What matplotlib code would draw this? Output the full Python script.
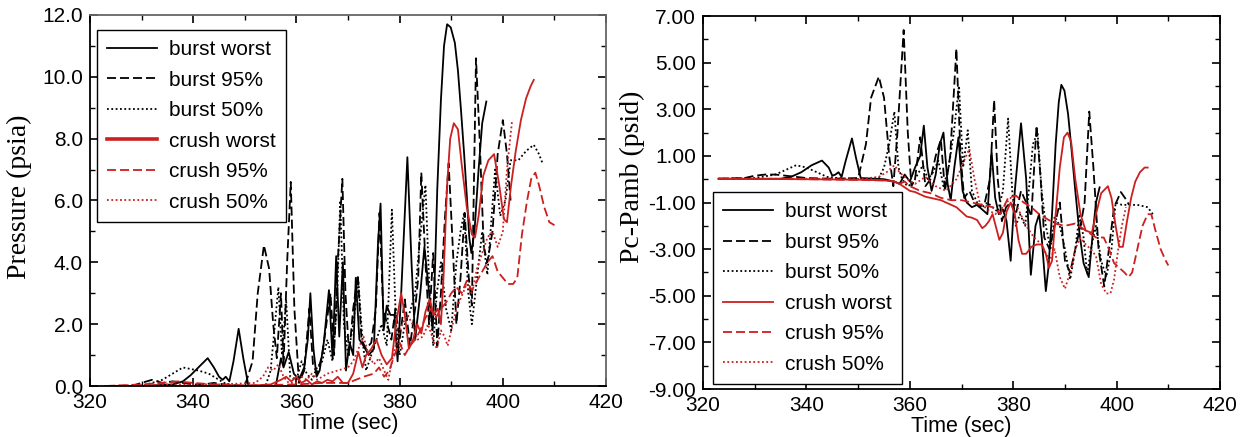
"""Burst / crush pressure histories, two panels"""
import matplotlib
matplotlib.use('Agg')
import matplotlib.pyplot as plt
from matplotlib.ticker import MultipleLocator, FormatStrFormatter

# ---- left panel: Pressure (psia) ----
L_BW_T = [323, 330, 336, 338, 339.5, 341, 342.8, 344, 345, 345.7, 346.3, 347, 347.8, 348.8, 349.7,
          350.7, 356, 357, 357.5, 358.5, 359.5, 360.5, 361.5, 362.2, 362.7, 363.3, 363.9, 364.5,
          365.3, 366.3, 367.0, 367.7, 368.3, 369.0, 369.6, 370.3, 371.0, 371.5, 372.2, 373.0, 374.0,
          375.0, 375.8, 376.3, 376.9, 377.5, 378.2, 379.0, 379.6, 380.3, 381.5, 382.3, 383.0, 384.0,
          384.8, 385.6, 386.4, 386.8, 387.3, 388.0, 388.6, 389.2, 389.9, 390.7, 391.3, 391.9,
          392.5, 393.0, 393.5, 393.9, 394.5, 395.3, 396.0, 396.8]
L_BW_P = [0, 0, 0.05, 0.15, 0.35, 0.6, 0.9, 0.6, 0.3, 0.2, 0.3, 0.15, 0.8, 1.85, 0.9,
          0, 0, 0.9, 0.6, 1.1, 0.4, 0.2, 0.6, 1.5, 3.0, 1.2, 0.3, 0.5,
          1.4, 3.1, 0.9, 4.2, 1.6, 4.0, 0.5, 1.4, 1.0, 3.5, 1.5, 1.3, 1.0,
          1.2, 4.6, 5.9, 1.8, 2.6, 2.3, 2.3, 0.8, 3.0, 7.4, 4.0, 1.5, 3.0,
          4.5, 3.2, 1.8, 3.5, 6.4, 9.25, 11.0, 11.7, 11.6, 11.1, 10.2, 8.9,
          7.5, 6.2, 4.8, 4.3, 5.0, 7.0, 8.5, 9.2]

L_B95_T = [323, 328, 330, 332, 334, 336, 338, 340, 342, 344, 346, 350, 351.5, 352.5, 353.7, 354.7,
           355.5, 356.2, 357.0, 357.5, 358.2, 358.9, 359.6, 360.5, 361.5, 362.5, 363.2, 364, 365,
           365.8, 366.6, 367.3, 368.0, 368.9, 369.5, 370.2, 371.0, 371.9, 372.6, 373.5, 374.5,
           375.4, 376.1, 376.8, 377.6, 378.4, 379.2, 380.0, 381.0, 382.0, 383.0, 383.6, 384.2,
           385.0, 385.7, 386.5, 387.3, 388.0, 388.8, 389.5, 390.3, 391.0, 391.8, 392.6, 393.4,
           394.0, 394.8, 395.5, 396.3, 397.0, 398.0, 399.0, 400.0, 400.8, 401.5]
L_B95_P = [0, 0, 0.1, 0.2, 0.1, 0.15, 0.1, 0.05, 0.05, 0.1, 0.05, 0, 0.8, 3.0, 4.55, 3.8,
           2.0, 0.9, 3.0, 0.7, 4.0, 6.6, 2.5, 0.1, 0.5, 2.5, 0.7, 0.4, 1.0,
           2.0, 3.0, 1.0, 4.0, 6.7, 3.0, 1.0, 2.5, 3.6, 1.5, 1.2, 1.4,
           2.5, 5.6, 2.5, 2.0, 1.5, 2.5, 1.5, 2.8, 1.3, 2.5, 3.5, 6.9,
           4.0, 2.0, 4.3, 1.3, 3.0, 5.5, 7.2, 4.5, 2.0, 3.5, 5.6, 3.5,
           2.6, 10.6, 8.0, 4.5, 4.0, 5.0, 7.5, 8.6, 7.5, 6.0]

L_B50_T = [323, 330, 334, 336, 338, 339.5, 341, 343, 344.5, 346, 348, 354, 355, 356.5, 357.2, 358,
           358.8, 360, 361, 362, 363, 364, 365, 366, 367, 367.8, 368.5, 369.2, 370, 371, 372,
           372.8, 373.5, 374.5, 375.5, 376.5, 377.5, 378.5, 379.3, 380, 381, 382, 383, 383.8,
           385.0, 385.8, 386.5, 387.2, 388, 389, 390, 391, 391.8, 392.5, 393.3, 394.0, 395.0,
           396.0, 397.0, 398.5, 399.5, 400.5, 401.5, 403, 404.5, 406, 407, 407.7]
L_B50_P = [0, 0, 0.2, 0.4, 0.6, 0.55, 0.5, 0.4, 0.25, 0.1, 0, 0, 0.5, 3.2, 1.0, 2.8,
           0.3, 0.2, 0.8, 0.4, 0.2, 0.6, 0.8, 1.5, 0.8, 2.5, 6.0, 2.0, 1.0, 2.0, 3.4,
           1.5, 0.5, 1.0, 1.5, 2.0, 1.3, 5.7, 2.0, 1.0, 2.0, 2.4, 3.0, 4.5,
           6.5, 3.0, 1.3, 3.0, 4.0, 2.5, 1.8, 4.0, 5.0, 5.6, 3.0, 2.0, 3.5,
           5.0, 3.6, 7.0, 5.5, 6.0, 7.3, 7.3, 7.6, 7.8, 7.5, 7.2]

L_CW_T = [323, 340, 350, 355, 357, 358, 359, 360, 361, 362, 363, 364, 365, 366, 367, 368, 369, 370,
          371, 372, 372.8, 373.5, 374.5, 375.5, 376.5, 377.5, 378.5, 379.3, 380.3, 381.0, 381.8,
          382.6, 383.4, 384.2, 385.0, 385.8, 386.6, 387.4, 388.0, 388.5, 389.2, 389.8, 390.5,
          391.3, 392.0, 393.0, 394.0, 394.6, 395.3, 396.2, 397.2, 398.3, 399.3, 400.2, 400.8,
          401.6, 402.5, 403.5, 404.5, 405.4, 406.0]
L_CW_P = [0, 0, 0, 0.05, 0.2, 0.3, 0.15, 0.3, 0.1, 0.2, 0.05, 0.15, 0.1, 0.2, 0.15, 0.3, 0.1, 0.1,
          0.4, 1.1, 0.6, 1.0, 1.2, 1.5, 1.0, 0.7, 0.9, 2.0, 3.0, 2.3, 1.2,
          1.5, 2.0, 1.7, 2.4, 2.8, 2.3, 2.5, 2.0, 3.5, 6.5, 8.0, 8.5,
          8.3, 7.2, 5.8, 4.9, 4.8, 5.5, 6.8, 7.3, 7.5, 6.5, 5.4, 5.3,
          6.5, 7.6, 8.6, 9.3, 9.7, 9.9]

L_C95_T = [323, 330, 334, 337, 340, 344, 350, 360, 365, 370, 373, 375, 376, 377, 378, 379, 380, 381,
           382, 383, 384, 385, 386, 387, 388, 389, 390, 391, 392, 393, 394, 395, 396, 397, 398,
           399, 400, 401, 402, 402.8, 403.7, 404.7, 405.5, 406.3, 407, 408, 409, 410]
L_C95_P = [0, 0.05, 0.1, 0.15, 0.1, 0.05, 0.02, 0.05, 0.1, 0.1, 0.3, 0.4, 0.6, 0.3, 0.5, 1.0, 1.4, 1.0,
           1.3, 1.5, 1.8, 2.2, 2.5, 2.2, 2.5, 2.7, 3.0, 3.2, 3.0, 3.4, 3.1, 3.4, 3.7, 4.0, 4.2,
           3.7, 3.5, 3.3, 3.3, 3.5, 4.9, 6.0, 6.7, 6.9, 6.5, 5.8, 5.3, 5.2]

L_C50_T = [323, 335, 345, 352, 353.5, 354.5, 355.5, 356.5, 357.5, 358.5, 360, 361, 362, 363, 364,
           366, 368, 370, 371, 372, 373, 374, 375, 376, 377, 377.8, 378.5, 379.5, 380.5, 381.5,
           382.5, 383.5, 384.5, 385.5, 386.5, 387.2, 388, 388.7, 389.3, 390, 391, 392, 393, 394,
           395, 396, 397, 398, 399, 400, 400.8, 401.8]
L_C50_P = [0, 0.05, 0.05, 0.1, 0.3, 0.6, 0.5, 0.7, 0.3, 0.1, 0.1, 0.3, 0.2, 0.4, 0.2,
           0.4, 0.5, 0.6, 0.8, 1.2, 1.6, 1.0, 0.7, 0.9, 0.5, 0.2, 0.8, 1.5, 2.0, 2.3,
           2.0, 1.5, 1.6, 2.0, 1.5, 1.2, 1.8, 1.6, 1.3, 1.8, 2.5, 2.9, 3.3, 3.0,
           3.8, 4.3, 4.8, 5.0, 4.5, 5.0, 7.0, 8.6]

# ---- right panel: Pc-Pamb (psid) ----
R_BW_T = [323, 335, 337, 339, 341, 343, 344.3, 345, 345.6, 346.2, 346.8, 347.6, 348.8, 349.6, 350.5,
          355, 357, 358, 359, 360, 361, 362, 362.7, 363.4, 364.2, 365, 365.8, 366.5, 367.3, 367.9,
          368.6, 369.4, 370.2, 371, 372, 373, 374, 375, 375.8, 376.5, 377.2, 378, 378.7, 379.5,
          380.3, 381.5, 382.5, 383.4, 384.3, 385, 385.5, 386.3, 386.8, 387.5, 388.2, 388.8, 389.3,
          389.9, 390.6, 391.3, 392.0, 392.8, 393.6, 394.6, 395.3, 396, 396.7]
R_BW_V = [0.02, 0.02, 0.1, 0.3, 0.6, 0.8, 0.5, 0.15, 0.2, 0.3, 0.1, 0.8, 1.75, 0.9, 0.05,
          0, -0.1, -0.2, 0.2, -0.1, 0.5, 1.0, 2.3, 0.5, -0.5, 0.2, 1.5, 2.0, -0.2, -0.9,
          0.5, 1.8, -0.5, -1.0, -1.2, -1.1, -1.3, -1.5, 1.2, -0.8, -1.5, -1.3, -1.8, -3.5,
          -0.5, 2.4, 0.0, -4.1, -2.0, -1.5, -2.5, -4.8, -3.8, -1.5, 1.5, 3.3, 4.05,
          3.8, 2.8, 1.2, -0.5, -2.3, -3.6, -4.2, -2.5, -1.0, -0.35]

R_B95_T = [323, 328, 330, 332, 334, 336, 338, 340, 345, 350, 351.5, 352.5, 354, 355, 356, 356.8,
           357.6, 358.8, 359.6, 360.3, 361, 362, 363, 364, 365, 366, 366.8, 367.8, 369, 369.8,
           370.5, 371.5, 372.5, 373.5, 374.5, 375.5, 376.3, 377, 377.8, 378.6, 379.5, 380.5,
           381.5, 382.5, 383.5, 384.5, 385.3, 386, 387, 388, 389, 390, 391, 392, 393, 393.8,
           394.7, 395.5, 396.5, 397.6, 398.5, 399.5, 400.8, 401.6, 402.4]
R_B95_V = [0.02, 0.05, 0.15, 0.2, 0.2, 0.15, 0.1, 0.05, 0.02, 0.05, 1.5, 3.5, 4.4, 3.5, 1.0, -0.3,
           2.0, 6.4, 2.0, -0.3, 0.0, 1.8, -0.3, 0.0, 1.0, 1.7, -0.5, 1.0, 5.6, 1.0,
           -0.8, -0.5, -1.0, -1.2, -1.0, 0.0, 3.4, 0.0, -1.8, -1.2, -1.0, -1.5,
           -0.5, -1.0, -1.6, 2.3, 0.0, -2.5, -3.0, -2.0, -1.0, -3.5, -4.0, -3.0, -2.0, -1.0,
           2.9, 0.5, -3.0, -4.6, -3.0, -1.2, -0.55, -0.8, -1.1]

R_B50_T = [323, 330, 334, 336, 338, 340, 342, 344, 346, 350, 354, 355, 356, 357, 357.8, 358.5,
           359.5, 360.5, 361.5, 362.5, 363.5, 364.5, 365.5, 366.5, 367.5, 368.5, 369.5, 370.3,
           371.2, 372, 373, 374, 375, 376, 377, 378, 379, 379.8, 380.5, 381.3, 382.3, 383,
           383.8, 384.7, 385.5, 386.3, 387.2, 388, 389, 390, 391, 392, 392.8, 393.6, 394.3,
           395, 396, 397, 398, 399, 399.8, 401, 402.5, 404, 406, 407]
R_B50_V = [0.02, 0.05, 0.2, 0.4, 0.6, 0.5, 0.3, 0.1, 0.05, 0, 0.05, 0.5, 1.5, 2.9, 0.5, 0.0,
           -0.3, -0.2, 0.2, 0.6, 0.0, 0.3, 0.8, -0.3, 0.5, 2.0, 4.0, 0.5,
           2.1, -0.5, -1.0, -1.2, -1.0, -1.2, -1.4, -0.5, 2.6, -0.5, -2.0, -1.5, -2.0, -0.5,
           1.5, 2.0, -0.5, -2.0, -3.0, -1.6, -2.0, -3.0, -4.3, -3.0, -1.5, -2.5, -4.1,
           -3.0, -2.0, -3.5, -4.2, -3.0, -1.0, -1.1, -1.1, -1.1, -1.2, -1.5]

R_CW_T = [323, 340, 350, 355, 357, 358, 359, 360, 361, 362, 363, 364, 365, 366, 367, 368, 369, 370,
          371, 372, 373, 374, 374.6, 375.3, 376, 376.6, 377.3, 378, 378.7, 379.5, 380.3, 381,
          381.7, 382.5, 383.5, 384.5, 385.5, 386.3, 386.9, 387.5, 388.2, 389, 389.8, 390.5,
          391.2, 392, 393, 394, 395.2, 396, 397, 398.3, 399, 399.8, 400.5, 401.2, 402, 402.8,
          403.6, 404.5, 405.4, 406]
R_CW_V = [0.02, 0.0, -0.02, -0.05, -0.1, -0.2, -0.35, -0.5, -0.55, -0.65, -0.75, -0.8, -0.85, -0.9,
          -1.0, -1.1, -1.2, -1.4, -1.6, -1.65, -1.75, -2.1, -2.0, -1.8, -1.5, -2.0, -2.6, -2.3,
          -1.4, -1.0, -1.5, -2.6, -3.2, -3.2, -2.9, -2.8, -2.8, -3.2, -3.8, -3.5, -1.5, 0.5,
          1.8, 2.0, 1.6, 0.0, -1.5, -2.2, -2.3, -1.5, -0.6, -0.3, -0.8, -2.0, -2.9, -2.9, -1.8,
          -0.8, -0.1, 0.3, 0.5, 0.5]

R_C95_T = [323, 340, 355, 357, 358, 359, 360, 362, 364, 366, 368, 370, 372, 374, 376, 377.5, 379,
           380.5, 382, 383.5, 385, 386.5, 388, 390, 392, 394, 396, 397.5, 398.5, 399.5, 400.5,
           401.5, 402.3, 403, 404, 405, 406, 406.7, 407.5, 408.5, 409.5, 410]
R_C95_V = [0.02, 0, -0.05, -0.1, -0.2, -0.1, -0.3, -0.5, -0.6, -0.8, -0.9, -0.9, -1.0, -1.1, -1.2,
           -1.5, -0.8, -0.7, -1.0, -1.2, -1.5, -1.7, -1.9, -2.0, -1.9, -2.2, -2.5, -2.5, -3.0,
           -3.6, -3.8, -4.0, -4.2, -4.0, -3.0, -2.0, -1.5, -1.5, -2.2, -3.0, -3.5, -3.7]

R_C50_T = [323, 340, 350, 354, 355.5, 357, 358, 359.5, 361, 363, 365, 367, 369, 370.5, 371.5, 372.5,
           373.5, 375, 376.5, 378, 379.5, 381, 382.5, 384, 385.5, 387, 388, 389, 390, 391, 392,
           393, 394, 395, 396, 397, 398, 398.8, 399.5, 400.3, 401, 401.8]
R_C50_V = [0.02, 0.02, 0.0, 0.1, 0.3, 0.6, 0.3, 0.0, -0.2, 0.1, -0.3, -0.5, 0.0, 0.8, 1.3, 0.0,
           -1.0, -1.3, -1.5, -1.2, -0.8, -1.3, -2.0, -2.5, -2.8, -3.5, -3.0, -4.2, -4.7, -4.0, -3.0,
           -2.5, -2.8, -3.0, -3.3, -4.5, -4.9, -4.9, -4.3, -3.0, -2.0, -1.2]

LABELS = ['burst worst', 'burst 95%', 'burst 50%', 'crush worst', 'crush 95%', 'crush 50%']
RIGHT_YTICKS = [-9, -7, -5, -3, -1, 1, 3, 5, 7]

RED = '#cc1f1f'
DASH = (0, (5, 2.2))
DOT = (0, (1, 1.4))
STYLES = [('black', '-'), ('black', DASH), ('black', DOT),
          (RED, '-'), (RED, DASH), (RED, DOT)]

plt.rcParams['font.family'] = ['Liberation Sans', 'DejaVu Sans']


def style_axes(ax, ymin, ymax, fmt):
    ax.set_xlim(320, 420)
    ax.set_ylim(ymin, ymax)
    ax.xaxis.set_major_locator(MultipleLocator(20))
    ax.xaxis.set_minor_locator(MultipleLocator(10))
    ax.yaxis.set_major_locator(MultipleLocator(2))
    ax.yaxis.set_minor_locator(MultipleLocator(1))
    ax.yaxis.set_major_formatter(FormatStrFormatter(fmt))
    ax.tick_params(which='both', direction='in', top=True, right=True,
                   labelsize=15, colors='black')
    ax.tick_params(which='major', length=6, width=1.2, pad=5)
    ax.tick_params(which='minor', length=3.5, width=1.0)
    for s in ax.spines.values():
        s.set_linewidth(1.3)
    ax.set_xlabel('Time (sec)', fontsize=15.5)
    ax.xaxis.set_label_coords(0.5, -0.072)


fig = plt.figure(figsize=(12.47, 4.37), dpi=100)
ax1 = fig.add_axes([0.0722, 0.1167, 0.4138, 0.849])
ax2 = fig.add_axes([0.5638, 0.1098, 0.4146, 0.8535])

left = [(L_BW_T, L_BW_P), (L_B95_T, L_B95_P), (L_B50_T, L_B50_P),
        (L_CW_T, L_CW_P), (L_C95_T, L_C95_P), (L_C50_T, L_C50_P)]
right = [(R_BW_T, R_BW_V), (R_B95_T, R_B95_V), (R_B50_T, R_B50_V),
         (R_CW_T, R_CW_V), (R_C95_T, R_C95_V), (R_C50_T, R_C50_V)]

for (t, v), (c, ls), lab in zip(left, STYLES, LABELS):
    ax1.plot(t, v, color=c, linestyle=ls, linewidth=1.3, label=lab)
for (t, v), (c, ls), lab in zip(right, STYLES, LABELS):
    ax2.plot(t, v, color=c, linestyle=ls, linewidth=1.3, label=lab)

style_axes(ax1, 0, 12, '%.1f')
style_axes(ax2, -9, 7, '%.2f')
ax2.set_yticks(RIGHT_YTICKS)
ax2.yaxis.set_minor_locator(MultipleLocator(1))
for side in ('top', 'right'):
    ax1.spines[side].set_color('#666666')

ax1.set_ylabel('Pressure (psia)', fontsize=20, family=['Liberation Serif', 'DejaVu Serif'])
ax1.yaxis.set_label_coords(-0.112, 0.51)
ax2.set_ylabel('Pc-Pamb (psid)', fontsize=20, family=['Liberation Serif', 'DejaVu Serif'])
ax2.yaxis.set_label_coords(-0.112, 0.57)

leg_kw = dict(fontsize=15, frameon=True, fancybox=False, framealpha=1, edgecolor='black',
              handlelength=2.4, labelspacing=0.55, borderaxespad=0, handletextpad=0.55,
              borderpad=0.5)
leg1 = ax1.legend(loc='upper left', bbox_to_anchor=(0.0136, 0.96), **leg_kw)
leg1.get_lines()[3].set_linewidth(2.6)
leg2 = ax2.legend(loc='lower left', bbox_to_anchor=(0.0186, 0.013), **leg_kw)
for leg in (leg1, leg2):
    leg.get_frame().set_linewidth(1.0)

fig.savefig('out.png', dpi=100)
